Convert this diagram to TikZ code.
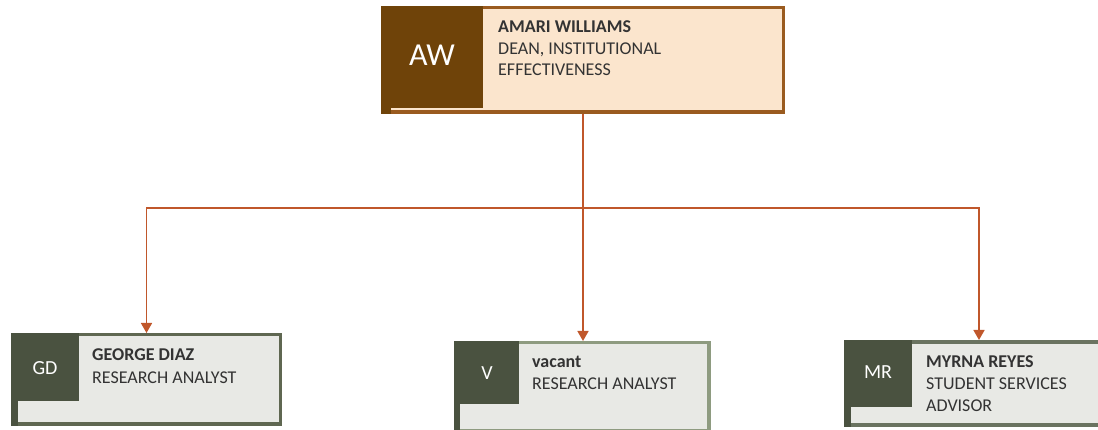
\documentclass[tikz,border=0pt]{standalone}
\usepackage{fontspec}
\setmainfont{Carlito}
\usetikzlibrary{arrows.meta}
\definecolor{brframe}{HTML}{9A5B1F}
\definecolor{brdark}{HTML}{6F4309}
\definecolor{peach}{HTML}{FBE5CD}
\definecolor{gndark}{HTML}{4A5240}
\definecolor{gnframeA}{HTML}{5F6751}
\definecolor{gnframeB}{HTML}{8E9B80}
\definecolor{gnframeC}{HTML}{6A7360}
\definecolor{lightfill}{HTML}{E8E9E5}
\definecolor{connc}{HTML}{C0572B}
\definecolor{txt}{HTML}{333333}
\tikzset{
  cardbox/.style={rectangle, draw=none, inner sep=0pt, outer sep=0pt},
  lbl/.style={anchor=base west, inner sep=0pt, text=txt, font=\fontsize{18}{21}\selectfont},
  lblb/.style={lbl, font=\fontsize{18}{21}\selectfont\bfseries},
  initbig/.style={inner sep=0pt, text=white, font=\fontsize{32}{36}\selectfont},
  initsm/.style={inner sep=0pt, text=white, font=\fontsize{20}{24}\selectfont},
  connector/.style={draw=connc, line width=1.6pt, -{Triangle[length=10pt,width=11pt]}}
}
\begin{document}
\begin{tikzpicture}[x=1pt,y=-1pt]
\useasboundingbox (0,0) rectangle (1098,430);

% ---- top card: Amari Williams
\node[cardbox, fill=brframe, minimum width=404pt, minimum height=108pt] (aw) at (583,60) {};
\fill[peach] (391,9) rectangle (782,110.5);
\fill[brdark] (381,6) rectangle (483,108);
\fill[brdark] (381,6) rectangle (391,114);
\node[initbig] (awi) at (432,55.5) {AW};
\node[lblb] (awn) at (498,33) {AMARI WILLIAMS};
\node[lbl] (awt1) at (498,55) {DEAN, INSTITUTIONAL};
\node[lbl] (awt2) at (498,76) {EFFECTIVENESS};

% ---- George Diaz
\node[cardbox, fill=gnframeA, minimum width=271pt, minimum height=93pt] (gd) at (146.5,379.5) {};
\fill[lightfill] (18,336) rectangle (279,422);
\fill[gndark] (11,333) rectangle (79,401);
\fill[gndark] (11,333) rectangle (18,426);
\node[initsm] (gdi) at (45,368.5) {GD};
\node[lblb] (gdn) at (92,361) {GEORGE DIAZ};
\node[lbl] (gdt) at (92,383) {RESEARCH ANALYST};

% ---- vacant
\node[cardbox, fill=gnframeB, minimum width=257pt, minimum height=91pt] (v) at (582.5,386.5) {};
\fill[lightfill] (460,344) rectangle (707,428.5);
\fill[gndark] (454,341) rectangle (519,404);
\fill[gndark] (454,341) rectangle (460,432);
\node[initsm] (vi) at (487,373) {V};
\node[lblb] (vn) at (532,367.5) {vacant};
\node[lbl] (vt) at (532,389) {RESEARCH ANALYST};

% ---- Myrna Reyes
\node[cardbox, fill=gnframeC, minimum width=270pt, minimum height=87pt] (mr) at (979,383.5) {};
\fill[lightfill] (851,344) rectangle (1111,423);
\fill[gndark] (844,340) rectangle (912,407);
\fill[gndark] (844,340) rectangle (851,427);
\node[initsm] (mri) at (878,372.5) {MR};
\node[lblb] (mrn) at (926,367) {MYRNA REYES};
\node[lbl] (mrt1) at (926,389) {STUDENT SERVICES};
\node[lbl] (mrt2) at (926,411) {ADVISOR};

% ---- connectors
\draw[connector] (aw.south) -- ++(0,94) -| (gd.north);
\draw[connector] (aw.south) -- ++(0,94) -| (mr.north);
\draw[connector] (aw.south) -- (aw.south |- v.north);
\end{tikzpicture}
\end{document}
